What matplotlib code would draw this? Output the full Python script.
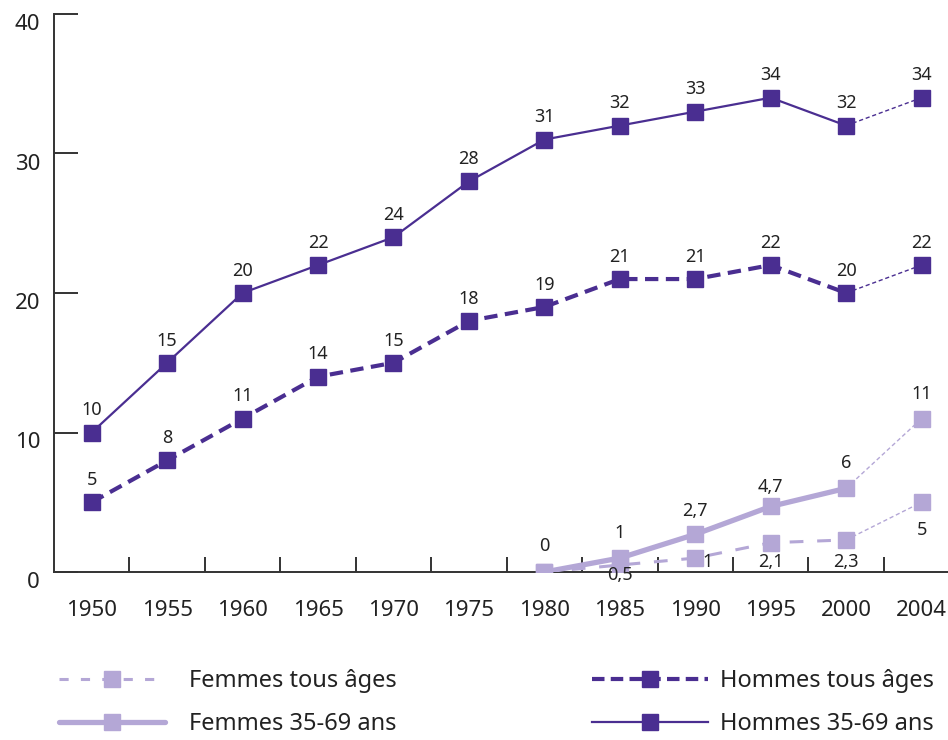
import matplotlib
matplotlib.use("Agg")
import matplotlib.pyplot as plt
from matplotlib.lines import Line2D
from matplotlib.ticker import FixedLocator

plt.rcParams['font.family'] = ['Noto Sans', 'DejaVu Sans']

years = ["1950", "1955", "1960", "1965", "1970", "1975", "1980", "1985", "1990", "1995", "2000", "2004"]
hommes_35_69 = [10, 15, 20, 22, 24, 28, 31, 32, 33, 34, 32, 34]
hommes_tous = [5, 8, 11, 14, 15, 18, 19, 21, 21, 22, 20, 22]
femmes_35_69 = [None, None, None, None, None, None, 0, 1, 2.7, 4.7, 6, 11]
femmes_tous = [None, None, None, None, None, None, 0, 0.5, 1, 2.1, 2.3, 5]
lab_h35 = ["10", "15", "20", "22", "24", "28", "31", "32", "33", "34", "32", "34"]
lab_ht = ["5", "8", "11", "14", "15", "18", "19", "21", "21", "22", "20", "22"]
lab_f35 = [None, None, None, None, None, None, "0", "1", "2,7", "4,7", "6", "11"]
lab_ft = [None, None, None, None, None, None, None, "0,5", "1", "2,1", "2,3", "5"]

DARK = "#4A2E91"
LIGHT = "#B4A7D6"
AXC = "#333333"
TXT = "#222222"

fig = plt.figure(figsize=(9.48, 7.40), dpi=100)
ax = fig.add_axes([54/948, 1 - 572/740, 1 - 54/948, (572 - 14)/740])

x = list(range(len(years)))
MS = 11

def series(vals, color, lw, ls, dashes, z):
    idx = [i for i, v in enumerate(vals) if v is not None]
    main = idx[:-1]
    xs = [x[i] for i in main]
    ys = [vals[i] for i in main]
    kw = dict(color=color, lw=lw, marker='s', ms=MS, mec=color, mfc=color, zorder=z)
    if ls == '--':
        ax.plot(xs, ys, ls='--', dashes=dashes, **kw)
    else:
        ax.plot(xs, ys, ls='-', **kw)
    a, b = idx[-2], idx[-1]
    ax.plot([x[a], x[b]], [vals[a], vals[b]], ls='--', dashes=(3, 2), lw=1.0, color=color, zorder=z - 0.5)
    ax.plot([x[b]], [vals[b]], marker='s', ms=MS, color=color, ls='none', zorder=z)

series(femmes_tous, LIGHT, 2.2, '--', (4.5, 4.5), 3)
series(femmes_35_69, LIGHT, 3.8, '-', None, 4)
series(hommes_tous, DARK, 3.0, '--', (3.2, 1.8), 5)
series(hommes_35_69, DARK, 1.6, '-', None, 6)

fs_lab = 13
for i, (v, t) in enumerate(zip(hommes_35_69, lab_h35)):
    ax.annotate(t, (x[i], v), xytext=(0, 16), textcoords='offset points', ha='center', va='center', fontsize=fs_lab, color=TXT)
for i, (v, t) in enumerate(zip(hommes_tous, lab_ht)):
    ax.annotate(t, (x[i], v), xytext=(0, 16), textcoords='offset points', ha='center', va='center', fontsize=fs_lab, color=TXT)
f35_off = {6: 19, 7: 18, 8: 17, 9: 14, 10: 18, 11: 18}
for i, (v, t) in enumerate(zip(femmes_35_69, lab_f35)):
    if t is not None:
        ax.annotate(t, (x[i], v), xytext=(0, f35_off[i]), textcoords='offset points', ha='center', va='center', fontsize=fs_lab, color=TXT)
ft_off = {7: (0, -7), 8: (5, -3), 9: (0, -14), 10: (0, -16), 11: (0, -20)}
for i, (v, t) in enumerate(zip(femmes_tous, lab_ft)):
    if t is not None:
        dx, dy = ft_off[i]
        ha = 'left' if dx > 0 else 'center'
        ax.annotate(t, (x[i], v), xytext=(dx, dy), textcoords='offset points', ha=ha, va='center', fontsize=fs_lab, color=TXT, zorder=10)

ax.set_xlim(-0.5, 11.35)
ax.set_ylim(0, 40)
for s in ['top', 'right']:
    ax.spines[s].set_visible(False)
for s in ['left', 'bottom']:
    ax.spines[s].set_color(AXC)
    ax.spines[s].set_linewidth(1.4)
    ax.spines[s].set_zorder(1)

ax.set_yticks([0, 10, 20, 30, 40])
ax.set_yticklabels(["0", "10", "20", "30", "40"])
ax.tick_params(axis='y', direction='in', length=17, width=1.4, color=AXC, labelsize=16, labelcolor=TXT, pad=10)
for lbl in ax.get_yticklabels():
    lbl.set_verticalalignment('top')
ax.set_xticks(x)
ax.set_xticklabels(years)
ax.tick_params(axis='x', which='major', length=0, labelsize=16, labelcolor=TXT, pad=20)
ax.xaxis.set_minor_locator(FixedLocator([i + 0.5 for i in range(11)]))
ax.tick_params(axis='x', which='minor', direction='in', length=11, width=1.4, color=AXC)

h_ft = Line2D([], [], color=LIGHT, lw=2.2, ls='--', dashes=(3, 4), marker='s', ms=MS)
h_f35 = Line2D([], [], color=LIGHT, lw=3.8, ls='-', marker='s', ms=MS, solid_capstyle='round')
h_ht = Line2D([], [], color=DARK, lw=3.0, ls='--', dashes=(3, 1.5), marker='s', ms=MS)
h_h35 = Line2D([], [], color=DARK, lw=1.6, ls='-', marker='s', ms=MS)

leg1 = fig.legend([h_ft, h_f35], ["Femmes tous âges", "Femmes 35-69 ans"], loc='upper left',
                  bbox_to_anchor=(45/948, 1 - 655/740), frameon=False, fontsize=17, handlelength=4.5,
                  handletextpad=1.0, labelspacing=0.8, numpoints=1, labelcolor=TXT, borderaxespad=0.2)
leg2 = fig.legend([h_ht, h_h35], ["Hommes tous âges", "Hommes 35-69 ans"], loc='upper left',
                  bbox_to_anchor=(578/948, 1 - 655/740), frameon=False, fontsize=17, handlelength=4.9,
                  handletextpad=0.5, labelspacing=0.8, numpoints=1, labelcolor=TXT, borderaxespad=0.2)

fig.savefig("out.png", dpi=100)
